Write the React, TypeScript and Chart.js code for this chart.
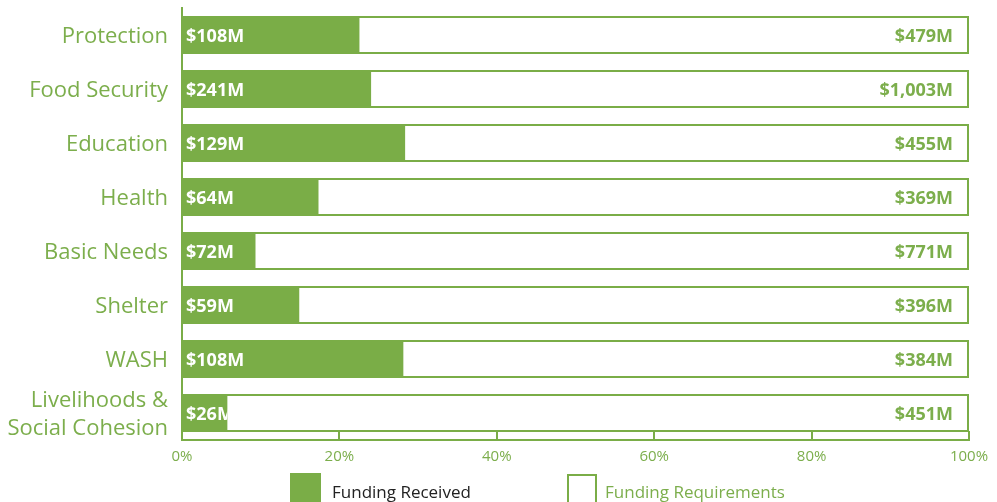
import React, { useEffect, useRef } from "react";
import { Chart, registerables } from "chart.js";

Chart.register(...registerables);

const categories: string[][] = [
  ["Protection"],
  ["Food Security"],
  ["Education"],
  ["Health"],
  ["Basic Needs"],
  ["Shelter"],
  ["WASH"],
  ["Livelihoods &", "Social Cohesion"],
];
const receivedM = [108, 241, 129, 64, 72, 59, 108, 26];
const requirementsM = [479, 1003, 455, 369, 771, 396, 384, 451];
const receivedLabels = ["$108M", "$241M", "$129M", "$64M", "$72M", "$59M", "$108M", "$26M"];
const requirementLabels = ["$479M", "$1,003M", "$455M", "$369M", "$771M", "$396M", "$384M", "$451M"];
const xTickValues = [0, 20, 40, 60, 80, 100];
const legendLabels = ["Funding Received", "Funding Requirements"];

const GREEN = "#7aad47";
const TEXT_GREEN = "#7cae4c";
const FONT = "'Open Sans', 'Noto Sans', sans-serif";

const pctFunded = receivedM.map((r, i) => (r / requirementsM[i]) * 100);
const fullBox = requirementsM.map(() => 100);

const valueLabelPlugin = {
  id: "valueLabels",
  afterDatasetsDraw(chart: any) {
    const ctx = chart.ctx;
    const recMeta = chart.getDatasetMeta(0);
    const reqMeta = chart.getDatasetMeta(1);
    ctx.save();
    ctx.font = `bold 18px ${FONT}`;
    ctx.textBaseline = "middle";
    recMeta.data.forEach((bar: any, i: number) => {
      const { x, y, base, height } = bar.getProps(["x", "y", "base", "height"], true);
      ctx.save();
      ctx.beginPath();
      ctx.rect(base, y - height / 2, x - base, height);
      ctx.clip();
      ctx.fillStyle = "#ffffff";
      ctx.textAlign = "left";
      ctx.fillText(receivedLabels[i], base + 4, y + 2);
      ctx.restore();
    });
    reqMeta.data.forEach((bar: any, i: number) => {
      const { x, y } = bar.getProps(["x", "y"], true);
      ctx.fillStyle = TEXT_GREEN;
      ctx.textAlign = "right";
      ctx.fillText(requirementLabels[i], x - 16, y + 2);
    });
    ctx.restore();
  },
};

const axisTickPlugin = {
  id: "axisTicks",
  afterDraw(chart: any) {
    const ctx = chart.ctx;
    const xs = chart.scales.x;
    const bottom = chart.chartArea.bottom;
    ctx.save();
    ctx.strokeStyle = GREEN;
    ctx.lineWidth = 2;
    xTickValues.forEach((v) => {
      const px = Math.round(xs.getPixelForValue(v));
      ctx.beginPath();
      ctx.moveTo(px, bottom);
      ctx.lineTo(px, bottom - 9);
      ctx.stroke();
    });
    ctx.restore();
  },
};

const legendPlugin = {
  id: "customLegend",
  afterDraw(chart: any) {
    const ctx = chart.ctx;
    ctx.save();
    ctx.font = `17px ${FONT}`;
    ctx.textBaseline = "alphabetic";
    ctx.textAlign = "left";
    ctx.fillStyle = GREEN;
    ctx.fillRect(290, 473, 31, 31);
    ctx.fillStyle = "#222222";
    ctx.fillText(legendLabels[0], 332, 498);
    ctx.strokeStyle = GREEN;
    ctx.lineWidth = 2;
    ctx.strokeRect(568, 475, 28, 30);
    ctx.fillStyle = TEXT_GREEN;
    ctx.fillText(legendLabels[1], 605, 498);
    ctx.restore();
  },
};

export default function App() {
  const canvasRef = useRef<HTMLCanvasElement | null>(null);

  useEffect(() => {
    if (!canvasRef.current) return;
    const chart = new Chart(canvasRef.current, {
      type: "bar",
      data: {
        labels: categories,
        datasets: [
          {
            label: legendLabels[0],
            data: pctFunded,
            backgroundColor: GREEN,
            borderWidth: 0,
            grouped: false,
            barPercentage: 0.7,
            categoryPercentage: 1,
          } as any,
          {
            label: legendLabels[1],
            data: fullBox,
            backgroundColor: "#ffffff",
            borderColor: GREEN,
            borderWidth: 2,
            grouped: false,
            barPercentage: 0.7,
            categoryPercentage: 1,
          } as any,
        ],
      },
      options: {
        responsive: false,
        animation: false,
        indexAxis: "y",
        layout: { padding: { top: 8, right: 28, left: 0, bottom: 0 } },
        plugins: {
          legend: { display: false },
          tooltip: { enabled: false },
          title: { display: false },
        },
        scales: {
          x: {
            min: 0,
            max: 100,
            position: "bottom",
            grid: { display: false, drawTicks: false },
            border: { display: true, color: GREEN, width: 2 },
            afterFit: (scale: any) => {
              scale.height = 62;
              scale.paddingLeft = 0;
              scale.paddingRight = 0;
            },
            ticks: {
              stepSize: 20,
              color: TEXT_GREEN,
              padding: 8,
              font: { family: FONT, size: 15 },
              callback: (v: any) => `${v}%`,
            },
          },
          y: {
            grid: { display: false, drawTicks: false },
            border: { display: true, color: GREEN, width: 2 },
            afterFit: (scale: any) => {
              scale.width = 182;
              scale.paddingTop = 0;
              scale.paddingBottom = 0;
            },
            ticks: {
              autoSkip: false,
              color: TEXT_GREEN,
              padding: 14,
              labelOffset: 2,
              font: { family: FONT, size: 22, lineHeight: 1.28 },
            },
          },
        },
      },
      plugins: [valueLabelPlugin, axisTickPlugin, legendPlugin],
    });
    return () => chart.destroy();
  }, []);

  return (
    <div style={{ position: "absolute", left: 0, top: 0, width: 997, height: 502, background: "#ffffff" }}>
      <canvas ref={canvasRef} width={997} height={502} />
    </div>
  );
}
